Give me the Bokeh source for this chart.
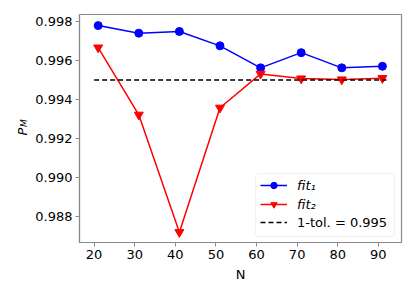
import math
from bokeh.plotting import figure
from bokeh.models import (Range1d, FixedTicker, Legend, LegendItem, Label, BoxAnnotation,
                          PrintfTickFormatter)
from bokeh.embed import file_html
from bokeh.resources import INLINE

# ---- data ----
N = [21, 31, 41, 51, 61, 71, 81, 91]
fit1 = [0.99779, 0.99740, 0.99749, 0.99675, 0.99562, 0.99640, 0.99562, 0.99570]
fit2 = [0.99666, 0.99321, 0.98718, 0.99357, 0.99531, 0.99507, 0.99502, 0.99509]
tol_value = 0.995
tol_x = [20, 92]
x_ticks = [20, 30, 40, 50, 60, 70, 80, 90]
y_ticks = [0.988, 0.990, 0.992, 0.994, 0.996, 0.998]

FONT = "DejaVu Sans"
SPINE = "#8a8a8a"

p = figure(width=415, height=297, output_backend="svg", toolbar_location=None,
           x_range=Range1d(16.4, 95.7), y_range=Range1d(0.98665, 0.99836),
           min_border_left=79, min_border_right=14, min_border_top=14, min_border_bottom=55)
p.xgrid.visible = False
p.ygrid.visible = False
p.outline_line_color = SPINE
p.outline_line_width = 1.2

for ax in (p.xaxis[0], p.yaxis[0]):
    ax.axis_line_color = SPINE
    ax.axis_line_width = 1.2
    ax.major_tick_line_color = SPINE
    ax.major_tick_in = 0
    ax.major_tick_out = 4
    ax.minor_tick_line_color = None
    ax.major_label_text_font = FONT
    ax.major_label_text_font_size = "13px"
    ax.major_label_text_color = "black"

p.xaxis.ticker = FixedTicker(ticks=x_ticks)
p.yaxis.ticker = FixedTicker(ticks=y_ticks)
p.yaxis.formatter = PrintfTickFormatter(format="%.3f")
p.xaxis.major_label_standoff = 3
p.yaxis.major_label_standoff = 3
p.xaxis.axis_label = "N"
p.xaxis.axis_label_text_font = FONT
p.xaxis.axis_label_text_font_size = "13px"
p.xaxis.axis_label_text_font_style = "normal"
p.xaxis.axis_label_text_color = "black"
p.xaxis.axis_label_standoff = 5

# ---- data glyphs ----
l1 = p.line(N, fit1, line_color="blue", line_width=1.5)
s1 = p.scatter(N, fit1, marker="circle", size=8, fill_color="blue", line_color="blue")
l2 = p.line(N, fit2, line_color="red", line_width=1.5)
s2 = p.scatter(N, fit2, marker="inverted_triangle", size=9, fill_color="red", line_color="red")
l3 = p.line(tol_x, [tol_value, tol_value], line_color="black", line_width=1.5, line_dash="5 3")

# ---- legend frame ----
box = BoxAnnotation(left=255, right=394, top=173, bottom=236,
                    left_units="canvas", right_units="canvas",
                    bottom_units="canvas", top_units="canvas",
                    fill_color="white", fill_alpha=0.8,
                    line_color="#cccccc", line_width=1, border_radius=3)
p.add_layout(box)

def make_legend(items, loc, style):
    lg = Legend(items=items, location=loc, orientation="vertical")
    lg.label_text_font = FONT
    lg.label_text_font_size = "13px"
    lg.label_text_font_style = style
    lg.label_text_color = "black"
    lg.glyph_width = 27
    lg.glyph_height = 16
    lg.label_height = 16
    lg.label_standoff = 10
    lg.spacing = 3
    lg.padding = 5
    lg.margin = 0
    lg.border_line_color = None
    lg.background_fill_alpha = 0
    return lg

legA = make_legend([LegendItem(label="fit\u2081", renderers=[l1, s1]),
                    LegendItem(label="fit\u2082", renderers=[l2, s2])], (181, 30), "italic")
legB = make_legend([LegendItem(label="1-tol. = 0.995", renderers=[l3])], (181, 12), "normal")
p.add_layout(legA, "center")
p.add_layout(legB, "center")

# ---- y axis label P_M (side panel, so not clipped to the frame) ----
p.add_layout(Label(x=21.5, y=131, x_units="canvas", y_units="canvas", text="P",
                   angle=math.pi / 2, text_align="center", text_baseline="middle",
                   text_font=FONT, text_font_size="13px", text_font_style="italic",
                   text_color="black"), "left")
p.add_layout(Label(x=23.5, y=122.5, x_units="canvas", y_units="canvas", text="M",
                   angle=math.pi / 2, text_align="center", text_baseline="middle",
                   text_font=FONT, text_font_size="9px", text_font_style="italic",
                   text_color="black"), "left")

open("out.html", "w").write(file_html(p, INLINE))
